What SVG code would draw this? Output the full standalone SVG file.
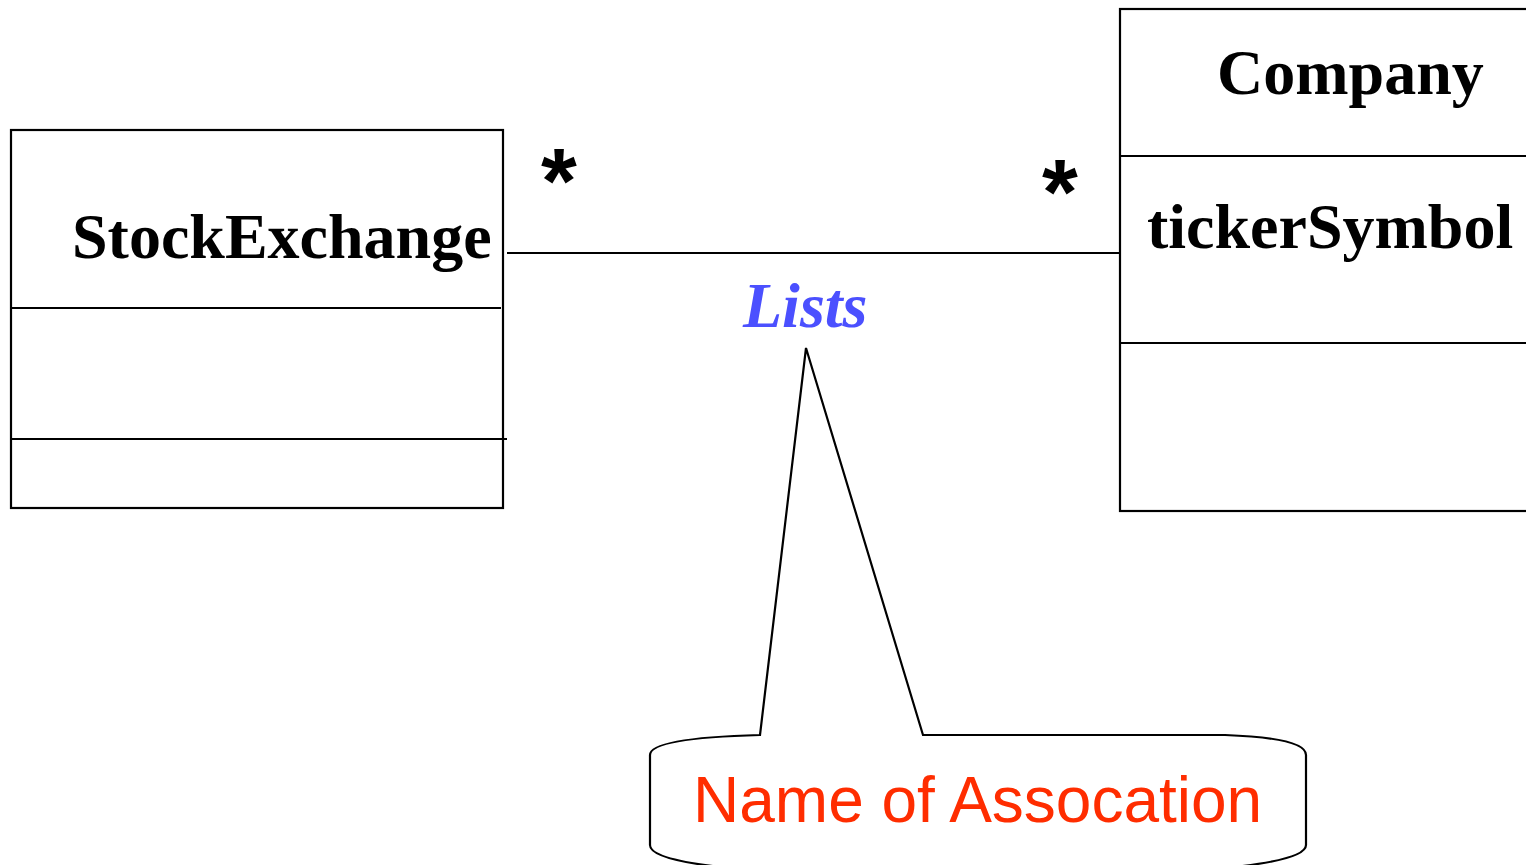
<svg xmlns="http://www.w3.org/2000/svg" width="1526" height="865" viewBox="0 0 1526 865">
<style>
.box{fill:#fff;stroke:#000;stroke-width:2.2}
.ln{stroke:#000;stroke-width:2.2;fill:none}
.cls{font-family:"Liberation Serif","Times New Roman",serif;font-weight:bold;font-size:64px;fill:#000}
.mult{font-family:"Liberation Sans",Arial,sans-serif;font-weight:bold;font-size:92px;fill:#000}
</style>
<rect width="1526" height="865" fill="#fff"/>
<g id="stockexchange">
<rect class="box" x="11" y="130" width="492" height="378"/>
<line class="ln" x1="11" y1="308" x2="501" y2="308"/>
<line class="ln" x1="11" y1="439" x2="507" y2="439"/>
<text class="cls" x="72" y="258">StockExchange</text>
</g>
<g id="company">
<rect class="box" x="1120" y="9" width="420" height="502"/>
<line class="ln" x1="1120" y1="156" x2="1526" y2="156"/>
<line class="ln" x1="1120" y1="343" x2="1526" y2="343"/>
<text class="cls" x="1217" y="94">Company</text>
<text class="cls" x="1147" y="248">tickerSymbol</text>
</g>
<g id="connectors">
<line class="ln" x1="507" y1="253" x2="1120" y2="253"/>
<text class="mult" x="541" y="213">*</text>
<text class="mult" x="1042" y="224">*</text>
<text x="743" y="327" font-family="Liberation Serif,'Times New Roman',serif" font-weight="bold" font-style="italic" font-size="64" fill="#4B50FF">Lists</text>
</g>
<g id="note">
<path class="ln" fill="#fff" d="M760,735 L806,348 L923,735 L1225,735 Q1306,738 1306,755 L1306,845 Q1306,860 1225,868 L730,868 Q650,860 650,845 L650,755 Q650,738 760,735 Z"/>
<text x="693" y="822" font-family="'Liberation Sans',Arial,sans-serif" font-size="64" fill="#FF2D00">Name of Assocation</text>
</g>
</svg>
